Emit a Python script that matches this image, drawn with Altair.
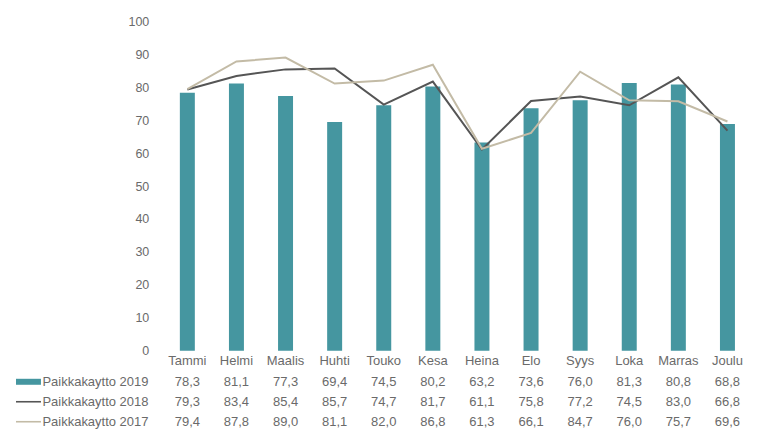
import altair as alt
import pandas as pd

months = ["Tammi", "Helmi", "Maalis", "Huhti", "Touko", "Kesa", "Heina", "Elo", "Syys", "Loka", "Marras", "Joulu"]
v2019 = [78.3, 81.1, 77.3, 69.4, 74.5, 80.2, 63.2, 73.6, 76.0, 81.3, 80.8, 68.8]
v2018 = [79.3, 83.4, 85.4, 85.7, 74.7, 81.7, 61.1, 75.8, 77.2, 74.5, 83.0, 66.8]
v2017 = [79.4, 87.8, 89.0, 81.1, 82.0, 86.8, 61.3, 66.1, 84.7, 76.0, 75.7, 69.6]
y_ticks = [0, 10, 20, 30, 40, 50, 60, 70, 80, 90, 100]
series_names = ["Paikkakaytto 2019", "Paikkakaytto 2018", "Paikkakaytto 2017"]
series_colors = ["#4596a0", "#555555", "#c3bba6"]
series_widths = [6, 1.6, 1.6]

rows = []
for name, vals in zip(series_names, [v2019, v2018, v2017]):
    for m, v in zip(months, vals):
        rows.append({"month": m, "series": name, "value": v})
df = pd.DataFrame(rows)

FONT = "Liberation Sans"
TXT = "#6a6a6a"
W = 590

x_scale = alt.Scale(paddingInner=0, paddingOuter=0)
y_scale = alt.Scale(domain=[0, 100], nice=False)
color_scale = alt.Scale(domain=series_names, range=series_colors)
x_axis = alt.Axis(title=None, labelAngle=0, ticks=False, domain=False,
                  labelPadding=4, labelFontSize=13, labelColor=TXT, labelFont=FONT)
y_axis = alt.Axis(title=None, values=y_ticks, grid=False, domain=False,
                  ticks=False, labelPadding=14, labelFontSize=12.5, labelColor=TXT,
                  labelFont=FONT, labelOverlap=False)

bars = alt.Chart(df).transform_filter(
    alt.datum.series == series_names[0]
).mark_bar(size=15, color=series_colors[0]).encode(
    x=alt.X("month:N", sort=months, scale=x_scale, axis=x_axis),
    y=alt.Y("value:Q", scale=y_scale, axis=y_axis),
)

lines = alt.Chart(df).transform_filter(
    alt.datum.series != series_names[0]
).mark_line(strokeWidth=2).encode(
    x=alt.X("month:N", sort=months, scale=x_scale, axis=x_axis),
    y=alt.Y("value:Q", scale=y_scale, axis=y_axis),
    color=alt.Color("series:N", scale=color_scale, legend=None),
)

top = alt.layer(bars, lines).properties(width=W, height=330)

table_text = alt.Chart(df).transform_calculate(
    label="replace(format(datum.value, '.1f'), '.', ',')"
).mark_text(fontSize=13, font=FONT, color=TXT).encode(
    x=alt.X("month:N", sort=months, scale=x_scale, axis=None),
    y=alt.Y("series:N", sort=series_names, scale=alt.Scale(paddingInner=0, paddingOuter=0),
            axis=alt.Axis(title=None, ticks=False, domain=False, labelAlign="left",
                          labelPadding=121, labelFontSize=13, labelColor=TXT, labelFont=FONT,
                          labelBaseline="middle")),
    text="label:N",
)

swatches = alt.Chart(df).transform_filter(
    alt.datum.month == months[0]
).mark_rule(strokeCap="butt").encode(
    x=alt.value(-147),
    x2=alt.value(-122),
    y=alt.Y("series:N", sort=series_names),
    color=alt.Color("series:N", scale=color_scale, legend=None),
    strokeWidth=alt.StrokeWidth("series:N",
                                scale=alt.Scale(type="ordinal", domain=series_names, range=series_widths),
                                legend=None),
)

table = alt.layer(table_text, swatches).properties(width=W, height=60)

chart = alt.vconcat(top, table, spacing=21, bounds="flush").properties(
    padding={"left": 5, "top": 7, "right": 0, "bottom": 0}
).configure(font=FONT).configure_view(strokeWidth=0, stroke=None)

chart.save("out.html", embed_options={"renderer": "svg", "actions": False})
